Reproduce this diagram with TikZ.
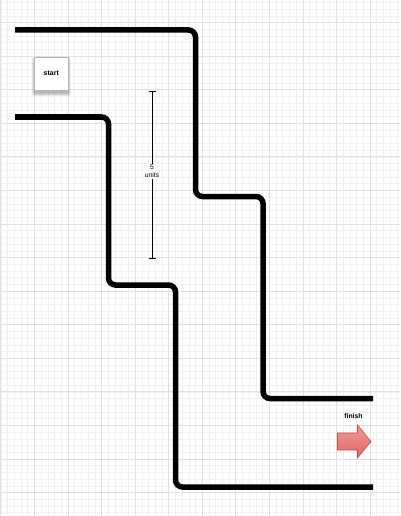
\documentclass[tikz,border=0pt]{standalone}
\usepackage{fontspec}
\setmainfont{Liberation Sans}
\definecolor{minorgrid}{HTML}{F1F1F1}
\definecolor{majorgrid}{HTML}{E0E0E0}
\definecolor{arrowfill}{HTML}{F08080}
\definecolor{arrowdark}{HTML}{E06464}
\definecolor{arrowedge}{HTML}{B85450}
\tikzset{
  minorline/.style={draw=minorgrid, line width=0.45pt},
  majorline/.style={draw=majorgrid, line width=0.7pt},
  wall/.style={line width=5.5pt, rounded corners=7pt, line cap=butt},
  startbox/.style={draw=gray!60, fill=white, line width=0.5pt, minimum width=34pt, minimum height=33pt,
    inner sep=0pt, font=\fontsize{7}{8}\selectfont\bfseries},
  shadowbox/.style={fill=black, opacity=0.08, rounded corners=1.5pt},
  labeltext/.style={font=\fontsize{6.8}{8}\selectfont, align=center, fill=white, inner sep=1pt},
  finishtext/.style={font=\fontsize{6.8}{7}\selectfont\bfseries, inner sep=0pt},
  measure/.style={line width=0.9pt},
}
\begin{document}
\begin{tikzpicture}[x=1pt,y=-1pt]
\useasboundingbox (0,0) rectangle (400,516);
\fill[white] (0,0) rectangle (400,516);
% grid
\foreach \i in {0,...,60} {
  \draw[minorline] ({0.73+\i*6.714},0) -- ++(0,516);
}
\foreach \i in {0,...,77} {
  \draw[minorline] (0,{2.36+\i*6.714}) -- ++(400,0);
}
\foreach \i in {0,...,12} {
  \draw[majorline] ({0.73+\i*33.57},0) -- ++(0,516);
}
\foreach \i in {0,...,15} {
  \draw[majorline] (0,{22.5+\i*33.57}) -- ++(400,0);
}
% walls
\draw[wall] (15,30) -- (195.5,30) -- (195.5,196.5) -- (263,196.5) -- (263,398.5) -- (373,398.5);
\draw[wall] (15,117) -- (108.5,117) -- (108.5,285) -- (175.5,285) -- (175.5,487) -- (373,487);
% start shadow
\foreach \d in {0,0.8,1.6,2.4} {
  \fill[shadowbox] ({34.3-\d},{59.5-\d}) rectangle ({68.3+\d},{93.5+\d});
}
% start
\node[startbox] (start) at (51.3,73.3) {start};
% measure
\coordinate (mtop) at (152,91);
\coordinate (mbot) at (152,258);
\draw[measure] (mtop) -- (mbot);
\draw[measure] ([xshift=-3.5pt]mtop) -- ([xshift=3.5pt]mtop);
\draw[measure] ([xshift=-3.5pt]mbot) -- ([xshift=3.5pt]mbot);
\node[labeltext] (units) at (152,171.5) {5\\units};
% finish
\node[finishtext] (finish) at (353.5,416.5) {finish};
\path[draw=arrowedge, line width=0.6pt, top color=arrowfill!80!white, bottom color=arrowdark, line join=miter]
  (337.5,433) -- (357.5,433) -- (357.5,425) -- (371,441.5) -- (357.5,458) -- (357.5,450) -- (337.5,450) -- cycle;
\end{tikzpicture}
\end{document}
